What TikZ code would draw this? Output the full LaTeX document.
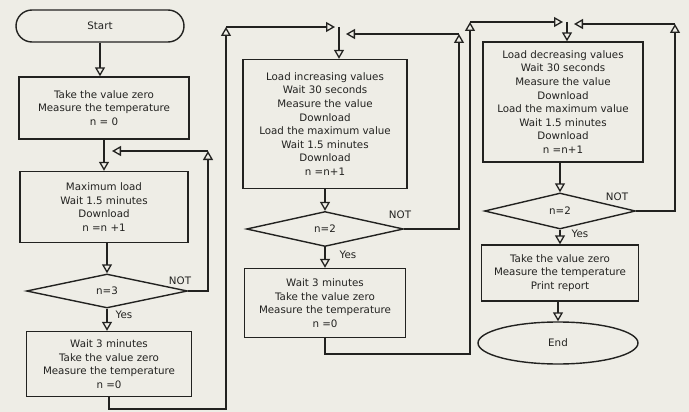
\documentclass[tikz,border=0pt]{standalone}
\usepackage{fontspec}
\setmainfont{DejaVu Sans}
\usetikzlibrary{arrows.meta,shapes.geometric}
\definecolor{paper}{RGB}{238,237,230}
\definecolor{ink}{RGB}{34,34,32}
\begin{document}
\begin{tikzpicture}[x=1pt,y=-1pt,
  every node/.style={font=\fontsize{10.3}{13.6}\selectfont, text=ink},
  shp/.style={draw=ink, line width=1.4pt, align=center, inner sep=0pt},
  box/.style={shp, rectangle},
  term/.style={shp, rectangle, rounded corners=16pt, minimum width=168pt, minimum height=32pt},
  dec/.style={shp, diamond},
  endo/.style={shp, ellipse, minimum width=160pt, minimum height=42pt},
  lbl/.style={inner sep=0pt},
  arr/.style={draw=ink, line width=1.3pt, -{Triangle[open, length=9pt, width=10pt]}}]
\fill[paper] (0,0) rectangle (689,412);
\useasboundingbox (0,0) rectangle (689,412);

% column 1
\node[term] (start) at (100,26) {Start};
\node[box, minimum width=170pt, minimum height=62pt] (b1) at (104,108) {Take the value zero\\Measure the temperature\\n = 0};
\node[box, minimum width=168pt, minimum height=71pt] (b2) at (104,207) {Maximum load\\Wait 1.5 minutes\\Download\\n =n +1};
\node[dec, minimum width=161pt, minimum height=34pt] (d1) at (107,291) {n=3};
\node[box, minimum width=165pt, minimum height=65pt] (b3) at (109,364) {Wait 3 minutes\\Take the value zero\\Measure the temperature\\n =0};
\node[lbl] (not1) at (180,281) {NOT};
\node[lbl] (yes1) at (124,315) {Yes};

% column 2
\node[box, minimum width=164pt, minimum height=129pt] (b4) at (325,124) {Load increasing values\\Wait 30 seconds\\Measure the value\\Download\\Load the maximum value\\Wait 1.5 minutes\\Download\\n =n+1};
\node[dec, minimum width=157pt, minimum height=35pt] (d2) at (325,229) {n=2};
\node[box, minimum width=161pt, minimum height=69pt] (b5) at (325,303) {Wait 3 minutes\\Take the value zero\\Measure the temperature\\n =0};
\node[lbl] (not2) at (400,215) {NOT};
\node[lbl] (yes2) at (348,255) {Yes};

% column 3
\node[box, minimum width=160pt, minimum height=120pt] (b6) at (563,102) {Load decreasing values\\Wait 30 seconds\\Measure the value\\Download\\Load the maximum value\\Wait 1.5 minutes\\Download\\n =n+1};
\node[dec, minimum width=151pt, minimum height=36pt] (d3) at (560,211) {n=2};
\node[box, minimum width=157pt, minimum height=56pt] (b7) at (560,273) {Take the value zero\\Measure the temperature\\Print report};
\node[endo] (end) at (558,343) {End};
\node[lbl] (not3) at (617,197) {NOT};
\node[lbl] (yes3) at (580,234) {Yes};

% coordinates
\coordinate (c1up) at (208,151);
\coordinate (j1) at (112,151);
\coordinate (e1b) at (226,409);
\coordinate (e1c) at (226,27);
\coordinate (j2) at (335,27);
\coordinate (t2) at (339,27);
\coordinate (c2up) at (459,34);
\coordinate (j3) at (346,34);
\coordinate (e2b) at (470,354);
\coordinate (e2c) at (470,22);
\coordinate (j4) at (563,22);
\coordinate (t3) at (567,22);
\coordinate (c3up) at (675,24);
\coordinate (j5) at (574,24);

% column 1 connectors
\draw[arr] (start.south) -- (start.south |- b1.north);
\draw[arr] (b1.south) -- (b1.south |- b2.north);
\draw[arr] (b2.south -| d1.north) -- (d1.north);
\draw[arr] (d1.south) -- (d1.south |- b3.north);
\draw[arr] (d1.east) -| (c1up);
\draw[arr] (c1up) -- (j1);
\draw[arr] (b3.south) |- (e1b) -- (e1c);
\draw[arr] (e1c) -- (j2);

% column 2 connectors
\draw[arr] (t2) -- (t2 |- b4.north);
\draw[arr] (b4.south) -- (d2.north);
\draw[arr] (d2.south) -- (b5.north);
\draw[arr] (d2.east) -| (c2up);
\draw[arr] (c2up) -- (j3);
\draw[arr] (b5.south) |- (e2b) -- (e2c);
\draw[arr] (e2c) -- (j4);

% column 3 connectors
\draw[arr] (t3) -- (t3 |- b6.north);
\draw[arr] (b6.south -| d3.north) -- (d3.north);
\draw[arr] (d3.south) -- (b7.north);
\draw[arr] (b7.south -| end.north) -- (end.north);
\draw[arr] (d3.east) -| (c3up);
\draw[arr] (c3up) -- (j5);
\end{tikzpicture}
\end{document}
